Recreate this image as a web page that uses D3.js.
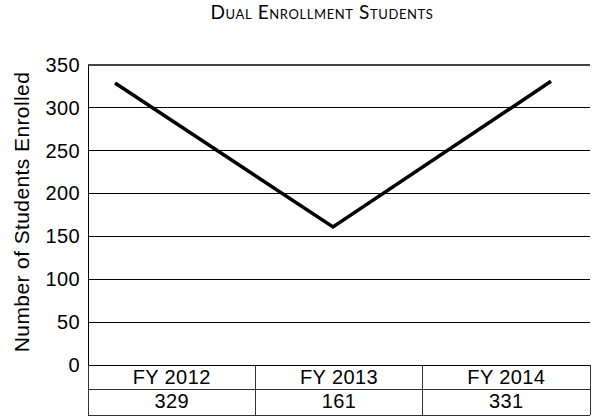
<!DOCTYPE html>
<html>
<head>
<meta charset="utf-8">
<script src="https://cdn.jsdelivr.net/npm/d3@7"></script>
<style>
  body { margin: 0; background: #fff; }
  svg { display: block; font-family: "Liberation Sans", Arial, sans-serif; }
</style>
</head>
<body>
<svg id="chart" width="596" height="417"></svg>
<script>
const years = ["FY 2012", "FY 2013", "FY 2014"];
const students = [329, 161, 331];
const yTicks = [0, 50, 100, 150, 200, 250, 300, 350];

const W = 596, H = 417;
const plot = { left: 88, right: 590, top: 65, bottom: 365 };
const rowH = [24, 26];

const svg = d3.select("#chart");

const y = d3.scaleLinear().domain([0, 350]).range([plot.bottom, plot.top]);
const x = d3.scalePoint().domain(years).range([plot.left + 27, plot.right - 39]);
const col = d3.scaleBand().domain(years).range([plot.left, plot.right]);

// title
svg.append("text")
  .attr("x", 322).attr("y", 19)
  .attr("text-anchor", "middle")
  .style("font-family", "Lato, 'Open Sans', sans-serif")
  .style("font-variant", "small-caps")
  .style("font-size", "19px")
  .style("letter-spacing", "0.6px")
  .text("Dual Enrollment Students");

// y label
svg.append("text")
  .attr("transform", `translate(29,${(plot.top + plot.bottom) / 2 - 3}) rotate(-90)`)
  .attr("text-anchor", "middle")
  .style("font-size", "21px")
  .style("letter-spacing", "0.4px")
  .text("Number of Students Enrolled");

// gridlines
svg.append("g").selectAll("line").data(yTicks).join("line")
  .attr("x1", plot.left).attr("x2", plot.right)
  .attr("y1", d => y(d)).attr("y2", d => y(d))
  .attr("stroke", d => d === 350 ? "#444" : "#000")
  .attr("stroke-width", d => d === 350 ? 1.5 : 1)
  .attr("shape-rendering", "crispEdges");

// y axis
const yAxis = svg.append("g")
  .attr("transform", `translate(${plot.left},0)`)
  .call(d3.axisLeft(y).tickValues(yTicks).tickSize(0).tickPadding(8));
yAxis.select(".domain").attr("stroke", "#000").attr("shape-rendering", "crispEdges");
yAxis.selectAll("text").style("font-size", "20px").style("letter-spacing", "0.4px").attr("fill", "#000")
  .attr("font-family", "Liberation Sans, Arial, sans-serif");

// line
svg.append("path")
  .datum(students)
  .attr("fill", "none")
  .attr("stroke", "#000")
  .attr("stroke-width", 3.5)
  .attr("stroke-linejoin", "miter")
  .attr("d", d3.line().x((d, i) => x(years[i])).y(d => y(d)));

// data table
const t = svg.append("g").attr("stroke", "#333").attr("shape-rendering", "crispEdges");
const r0 = plot.bottom, r1 = r0 + rowH[0], r2 = r1 + rowH[1];
[r1, r2].forEach(yy => t.append("line").attr("x1", plot.left).attr("x2", plot.right).attr("y1", yy).attr("y2", yy));
const edges = years.map(d => col(d)).concat([plot.right]);
t.selectAll("line.v").data(edges).join("line").attr("class", "v")
  .attr("x1", d => d).attr("x2", d => d).attr("y1", r0).attr("y2", r2);

svg.append("g").selectAll("text").data(years).join("text")
  .attr("x", d => col(d) + col.bandwidth() / 2)
  .attr("y", r0 + 19)
  .attr("text-anchor", "middle")
  .style("font-size", "20px")
  .style("letter-spacing", "0.4px")
  .text(d => d);

svg.append("g").selectAll("text").data(students).join("text")
  .attr("x", (d, i) => col(years[i]) + col.bandwidth() / 2)
  .attr("y", r1 + 19)
  .attr("text-anchor", "middle")
  .style("font-size", "20px")
  .style("letter-spacing", "0.4px")
  .text(d => d);
</script>
</body>
</html>
